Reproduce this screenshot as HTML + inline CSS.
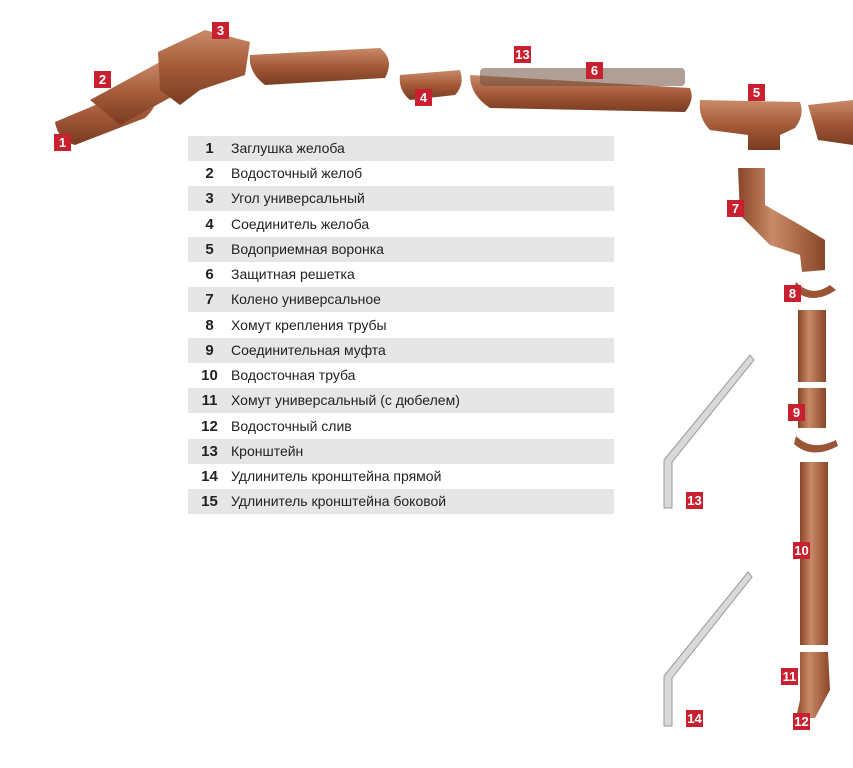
<!DOCTYPE html><html><head><meta charset="utf-8"><style>
body{margin:0;background:#fff;width:853px;height:768px;overflow:hidden;position:relative;font-family:"Liberation Sans",sans-serif}
.r{position:absolute;left:188px;width:426px;height:25px;font-size:14px;line-height:25px;color:#222}
.g{background:#e6e6e6}
.r b{display:inline-block;width:43px;text-align:center;font-size:15px}
.l{position:absolute;width:17px;height:17px;background:#c8202f;color:#fff;font-weight:bold;font-size:13px;line-height:17px;text-align:center}
svg{position:absolute;left:0;top:0}
</style></head><body>
<svg width="853" height="768">
<defs><linearGradient id="b" x1="0" y1="0" x2="0" y2="1"><stop offset="0" stop-color="#c98a68"/><stop offset=".5" stop-color="#a45a38"/><stop offset="1" stop-color="#7a3c22"/></linearGradient>
<linearGradient id="p" x1="0" y1="0" x2="1" y2="0"><stop offset="0" stop-color="#8a4628"/><stop offset=".4" stop-color="#c88a68"/><stop offset="1" stop-color="#8a4628"/></linearGradient></defs>
<g fill="url(#b)">
<path d="M55 122 L150 82 Q165 100 145 118 L75 145 Q58 140 55 122Z"/>
<path d="M90 100 L160 62 L175 95 L120 125Z"/>
<path d="M158 52 L205 30 L250 42 L245 75 L200 90 L180 105 L160 90Z"/>
<path d="M250 55 L380 48 Q395 60 385 78 L265 85 Q248 72 250 55Z"/>
<path d="M400 75 L460 70 Q465 85 455 95 L410 100 Q398 90 400 75Z"/>
<path d="M470 75 L690 88 Q695 100 685 112 L490 108 Q470 95 470 75Z"/>
<path d="M700 100 L800 102 Q805 115 795 128 L780 135 L780 150 L748 150 L748 135 L710 130 Q698 118 700 100Z"/>
<path d="M808 105 L853 100 L853 145 L818 140Z"/>
</g>
<g fill="#6e5040" opacity=".55"><rect x="480" y="68" width="205" height="18" rx="4"/></g>
<path d="M738 168 L765 168 L765 205 L800 225 L825 240 L825 270 L802 272 L800 255 L770 245 L740 215Z" fill="url(#p)"/>
<path d="M796 282 Q812 298 830 285 L836 290 Q812 306 794 290Z" fill="#9a5535"/>
<rect x="798" y="310" width="28" height="72" fill="url(#p)"/>
<rect x="798" y="388" width="28" height="40" fill="url(#p)"/>
<path d="M796 436 Q812 452 836 440 L838 446 Q812 460 794 444Z" fill="#9a5535"/>
<rect x="800" y="462" width="28" height="183" fill="url(#p)"/>
<path d="M800 652 L828 652 L830 690 L815 718 L796 718 L800 700Z" fill="url(#p)"/>
<g fill="#d9d9d9" stroke="#999" stroke-width="1">
<path d="M664 460 L750 355 L754 360 L672 462 L672 508 L664 508Z"/>
<path d="M664 676 L748 572 L752 577 L672 678 L672 726 L664 726Z"/>
</g>
</svg>
<div class="r g" style="top:136px"><b>1</b>Заглушка желоба</div>
<div class="r" style="top:161px"><b>2</b>Водосточный желоб</div>
<div class="r g" style="top:186px"><b>3</b>Угол универсальный</div>
<div class="r" style="top:212px"><b>4</b>Соединитель желоба</div>
<div class="r g" style="top:237px"><b>5</b>Водоприемная воронка</div>
<div class="r" style="top:262px"><b>6</b>Защитная решетка</div>
<div class="r g" style="top:287px"><b>7</b>Колено универсальное</div>
<div class="r" style="top:313px"><b>8</b>Хомут крепления трубы</div>
<div class="r g" style="top:338px"><b>9</b>Соединительная муфта</div>
<div class="r" style="top:363px"><b>10</b>Водосточная труба</div>
<div class="r g" style="top:388px"><b>11</b>Хомут универсальный (с дюбелем)</div>
<div class="r" style="top:414px"><b>12</b>Водосточный слив</div>
<div class="r g" style="top:439px"><b>13</b>Кронштейн</div>
<div class="r" style="top:464px"><b>14</b>Удлинитель кронштейна прямой</div>
<div class="r g" style="top:489px"><b>15</b>Удлинитель кронштейна боковой</div>
<div class="l" style="left:54px;top:134px">1</div>
<div class="l" style="left:94px;top:71px">2</div>
<div class="l" style="left:212px;top:22px">3</div>
<div class="l" style="left:415px;top:89px">4</div>
<div class="l" style="left:514px;top:46px">13</div>
<div class="l" style="left:586px;top:62px">6</div>
<div class="l" style="left:748px;top:84px">5</div>
<div class="l" style="left:727px;top:200px">7</div>
<div class="l" style="left:784px;top:285px">8</div>
<div class="l" style="left:788px;top:404px">9</div>
<div class="l" style="left:686px;top:492px">13</div>
<div class="l" style="left:793px;top:542px">10</div>
<div class="l" style="left:781px;top:668px">11</div>
<div class="l" style="left:793px;top:713px">12</div>
<div class="l" style="left:686px;top:710px">14</div>
</body></html>
